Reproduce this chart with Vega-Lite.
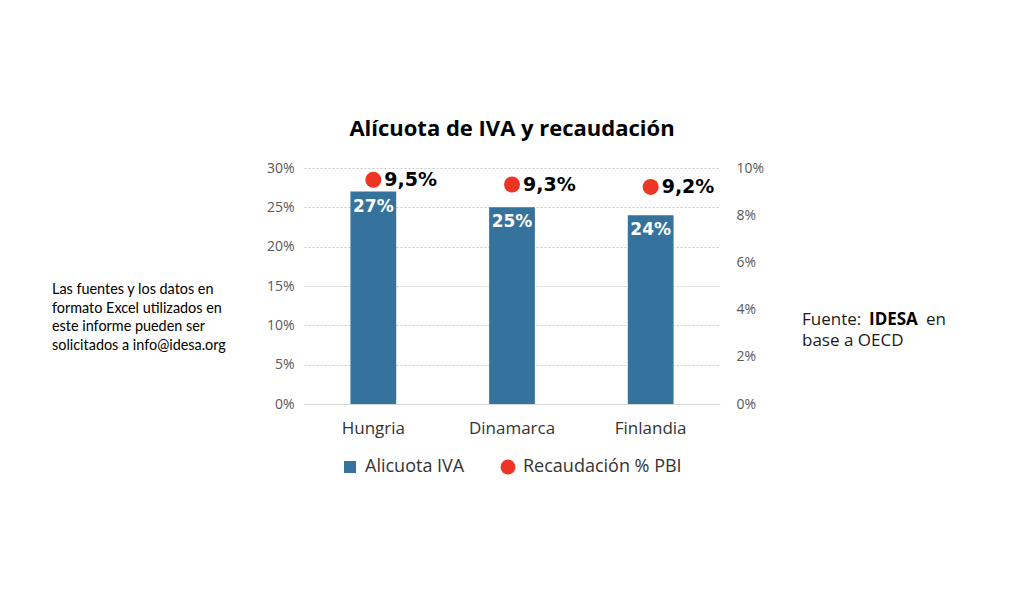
{
  "$schema": "https://vega.github.io/schema/vega-lite/v6.json",
  "padding": {"left": 52, "top": 118, "right": 5, "bottom": 5},
  "background": "white",
  "config": {
    "view": {"stroke": null},
    "locale": {"number": {"decimal": ",", "thousands": ".", "grouping": [3], "currency": ["$", ""]}}
  },
  "datasets": {
    "paises": [
      {"pais": "Hungria", "iva": 0.27, "rec": 0.095},
      {"pais": "Dinamarca", "iva": 0.25, "rec": 0.093},
      {"pais": "Finlandia", "iva": 0.24, "rec": 0.092}
    ],
    "nota": [
      {"linea": 1, "texto": "Las fuentes y los datos en"},
      {"linea": 2, "texto": "formato Excel utilizados en"},
      {"linea": 3, "texto": "este informe pueden ser"},
      {"linea": 4, "texto": "solicitados a info@idesa.org"}
    ],
    "fuente": [
      {"linea": 1, "parte": 1, "texto": "Fuente:"},
      {"linea": 1, "parte": 2, "texto": "IDESA"},
      {"linea": 1, "parte": 3, "texto": "en"},
      {"linea": 2, "parte": 1, "texto": "base a OECD"}
    ]
  },
  "bounds": "flush",
  "spacing": 82,
  "hconcat": [
    {
      "width": 170,
      "height": 236,
      "data": {"name": "nota"},
      "mark": {"type": "text", "align": "left", "baseline": "middle", "font": "Lato", "fontSize": 14.4, "color": "#000000"},
      "encoding": {
        "y": {"field": "linea", "type": "ordinal", "scale": {"type": "point", "range": [122, 178], "padding": 0}, "axis": null},
        "x": {"value": 0},
        "text": {"field": "texto"}
      }
    },
    {
      "width": 416,
      "height": 236,
      "data": {"name": "paises"},
      "title": {"text": "Alícuota de IVA y recaudación", "fontSize": 22, "font": "Open Sans", "fontWeight": "bold", "color": "#000000", "anchor": "middle", "offset": 20},
      "encoding": {
        "x": {
          "field": "pais", "type": "nominal", "sort": null,
          "scale": {"paddingInner": 0.67, "paddingOuter": 0.335},
          "axis": {"title": null, "labelAngle": 0, "labelFontSize": 17, "labelFont": "Open Sans", "labelColor": "#333333", "labelPadding": 16, "ticks": false, "domainColor": "#d9d9d9"}
        }
      },
      "layer": [
        {
          "encoding": {
            "y": {
              "field": "iva", "type": "quantitative", "scale": {"domain": [0, 0.3]},
              "axis": {"title": null, "format": ".0%", "values": [0, 0.05, 0.1, 0.15, 0.2, 0.25, 0.3], "labelOverlap": false, "domain": false, "ticks": false, "labelPadding": 10, "labelFontSize": 14, "labelFont": "Open Sans", "labelColor": "#595959", "gridDash": [2, 2], "gridColor": "#c8c8c8"}
            }
          },
          "layer": [
            {
              "mark": {"type": "bar"},
              "encoding": {
                "color": {
                  "datum": "Alicuota IVA",
                  "scale": {"domain": ["Alicuota IVA", "Recaudación % PBI"], "range": ["#35739d", "#ee3424"]},
                  "legend": {
                    "title": null, "orient": "none", "legendX": 289, "legendY": 290, "direction": "horizontal",
                    "labelFontSize": 18, "labelFont": "Open Sans", "labelColor": "#333333", "columnPadding": 34,
                    "symbolOpacity": 1, "symbolStrokeWidth": 0, "labelOffset": 6,
                    "encode": {"symbols": {"update": {
                      "shape": {"signal": "datum.value === 'Alicuota IVA' ? 'square' : 'circle'"},
                      "size": {"signal": "datum.value === 'Alicuota IVA' ? 144 : 220"}
                    }}}
                  }
                }
              }
            },
            {
              "mark": {"type": "text", "baseline": "top", "dy": 7, "color": "#ffffff", "fontWeight": "bold", "fontSize": 17, "font": "DejaVu Sans"},
              "encoding": {
                "text": {"field": "iva", "type": "quantitative", "format": ".0%"}
              }
            }
          ]
        },
        {
          "encoding": {
            "y": {
              "field": "rec", "type": "quantitative", "scale": {"domain": [0, 0.1]},
              "axis": {"orient": "right", "title": null, "format": ".0%", "values": [0, 0.02, 0.04, 0.06, 0.08, 0.1], "labelOverlap": false, "grid": false, "domain": false, "ticks": false, "labelPadding": 16, "labelFontSize": 14, "labelFont": "Open Sans", "labelColor": "#595959"}
            }
          },
          "layer": [
            {
              "mark": {"type": "point", "filled": true, "size": 256, "opacity": 1},
              "encoding": {
                "color": {"datum": "Recaudación % PBI"}
              }
            },
            {
              "mark": {"type": "text", "align": "left", "baseline": "middle", "dx": 11, "color": "#000000", "fontWeight": "bold", "fontSize": 19, "font": "DejaVu Sans"},
              "encoding": {
                "text": {"field": "rec", "type": "quantitative", "format": ".1%"}
              }
            }
          ]
        }
      ],
      "resolve": {"scale": {"y": "independent"}}
    },
    {
      "width": 150,
      "height": 236,
      "data": {"name": "fuente"},
      "encoding": {
        "y": {"field": "linea", "type": "ordinal", "scale": {"type": "point", "range": [152, 173], "padding": 0}, "axis": null},
        "x": {"value": 0},
        "text": {"field": "texto"}
      },
      "layer": [
        {
          "transform": [{"filter": "datum.parte == 1"}],
          "mark": {"type": "text", "align": "left", "baseline": "middle", "font": "Open Sans", "fontSize": 17, "color": "#1a1a1a"}
        },
        {
          "transform": [{"filter": "datum.parte == 2"}],
          "mark": {"type": "text", "align": "left", "baseline": "middle", "dx": 67, "font": "Open Sans", "fontSize": 17, "fontWeight": "bold", "color": "#000000"}
        },
        {
          "transform": [{"filter": "datum.parte == 3"}],
          "mark": {"type": "text", "align": "left", "baseline": "middle", "dx": 124, "font": "Open Sans", "fontSize": 17, "color": "#1a1a1a"}
        }
      ]
    }
  ]
}
